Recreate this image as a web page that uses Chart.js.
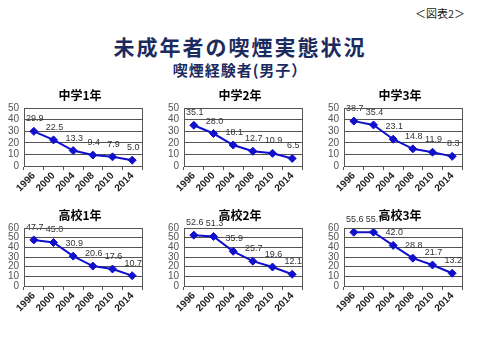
<!DOCTYPE html>
<html lang="ja">
<head>
<meta charset="utf-8">
<script src="https://cdn.jsdelivr.net/npm/chart.js@4.4.1/dist/chart.umd.min.js"></script>
<style>
  html, body { margin: 0; padding: 0; background: #fff; }
  body { width: 480px; height: 360px; position: relative; overflow: hidden;
         font-family: "Noto Sans CJK JP", sans-serif; }
  .fig { position: absolute; right: 15px; top: 6px; font-size: 11px; line-height: 14px; color: #222; }
  .t1 { position: absolute; left: 0; width: 480px; top: 33px; text-align: center;
        font-size: 21px; line-height: 26px; font-weight: bold; color: #1c2b5e; letter-spacing: 2px; }
  .t2 { position: absolute; left: 0; width: 480px; top: 60px; text-align: center;
        font-size: 15px; line-height: 19px; font-weight: bold; color: #1c2b5e; letter-spacing: 1px; }
  .box { position: absolute; width: 160px; height: 120px; }
  .box .ttl { position: absolute; left: 0; top: 2px; width: 160px; text-align: center;
              font-size: 12px; line-height: 16px; font-weight: bold; color: #000; }
  .box canvas { position: absolute; left: 0; top: 0; }
</style>
</head>
<body>
<div class="fig">＜図表2＞</div>
<div class="t1">未成年者の喫煙実態状況</div>
<div class="t2">喫煙経験者(男子）</div>
<div id="charts"></div>
<script>
// 調査年
var years = ["1996", "2000", "2004", "2008", "2010", "2014"];

// 学年ごとの喫煙経験率(%)
var grades = ["中学1年", "中学2年", "中学3年", "高校1年", "高校2年", "高校3年"];
var chu1 = [29.9, 22.5, 13.3, 9.4, 7.9, 5.0];
var chu2 = [35.1, 28.0, 18.1, 12.7, 10.9, 6.5];
var chu3 = [38.7, 35.4, 23.1, 14.8, 11.9, 8.3];
var kou1 = [47.7, 45.0, 30.9, 20.6, 17.6, 10.7];
var kou2 = [52.6, 51.3, 35.9, 25.7, 19.6, 12.1];
var kou3 = [55.6, 55.7, 42.0, 28.8, 21.7, 13.2];
var yMax = [50, 50, 50, 60, 60, 60];

var BLUE = "#1010cc";
var NUM_FONT = "'Liberation Sans', Arial, sans-serif";

// プロット枠
var frame = {
  id: "frame",
  afterDraw: function (chart) {
    var a = chart.chartArea, ctx = chart.ctx;
    ctx.save();
    ctx.strokeStyle = "#555";
    ctx.lineWidth = 1;
    ctx.strokeRect(Math.round(a.left) + 0.5, Math.round(a.top) + 0.5,
      Math.round(a.right - a.left), Math.round(a.bottom - a.top));
    ctx.restore();
  }
};

// 値ラベル
var valueLabels = {
  id: "valueLabels",
  afterDatasetsDraw: function (chart) {
    var ctx = chart.ctx;
    var ds = chart.data.datasets[0];
    var meta = chart.getDatasetMeta(0);
    ctx.save();
    ctx.font = "9px " + NUM_FONT;
    ctx.fillStyle = "#333";
    ctx.textAlign = "center";
    ctx.textBaseline = "bottom";
    meta.data.forEach(function (p, i) {
      ctx.fillText(ds.data[i].toFixed(1), p.x + 1, p.y - 8);
    });
    ctx.restore();
  }
};

function makeChart(canvas, vals, ymax) {
  return new Chart(canvas, {
    type: "line",
    data: {
      labels: years,
      datasets: [{
        data: vals, borderColor: BLUE, backgroundColor: BLUE, borderWidth: 2,
        pointStyle: "rectRot", pointRadius: 4, pointBorderWidth: 1, tension: 0
      }]
    },
    options: {
      responsive: false, animation: false, devicePixelRatio: 1,
      layout: { padding: { top: 23, right: 18, left: 0, bottom: 0 } },
      plugins: { legend: { display: false }, tooltip: { enabled: false } },
      scales: {
        x: {
          offset: true,
          grid: { offset: true, drawOnChartArea: false, drawTicks: true, tickLength: 4, color: "#555" },
          border: { color: "#555" },
          ticks: { minRotation: 45, maxRotation: 45, padding: 0, color: "#222", autoSkip: false,
                   font: { size: 10, weight: "bold", family: NUM_FONT } },
          afterFit: function (s) { s.height = 39; }
        },
        y: {
          min: 0, max: ymax,
          grid: { color: "#555", drawTicks: false },
          border: { display: false },
          ticks: { stepSize: 10, autoSkip: false, padding: 5, color: "#555",
                   font: { size: 10, family: NUM_FONT } },
          afterFit: function (s) { s.width = 24; }
        }
      }
    },
    plugins: [frame, valueLabels]
  });
}

var series = [chu1, chu2, chu3, kou1, kou2, kou3];
var wrap = document.getElementById("charts");
series.forEach(function (vals, i) {
  var box = document.createElement("div");
  box.className = "box";
  box.style.left = (i % 3) * 160 + "px";
  box.style.top = (85 + Math.floor(i / 3) * 120) + "px";
  var cv = document.createElement("canvas");
  cv.width = 160; cv.height = 120;
  var ttl = document.createElement("div");
  ttl.className = "ttl";
  ttl.textContent = grades[i];
  box.appendChild(cv);
  box.appendChild(ttl);
  wrap.appendChild(box);
  makeChart(cv, vals, yMax[i]);
});
</script>
</body>
</html>
